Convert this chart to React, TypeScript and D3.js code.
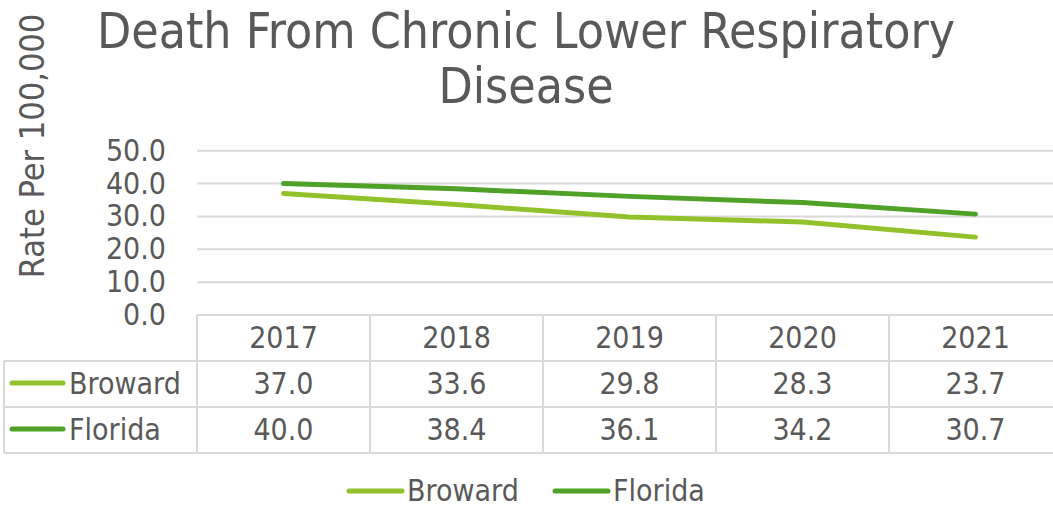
import * as React from 'react';
import { scaleLinear, scaleBand, line } from 'd3';

const years = ['2017', '2018', '2019', '2020', '2021'];
const broward = [37.0, 33.6, 29.8, 28.3, 23.7];
const florida = [40.0, 38.4, 36.1, 34.2, 30.7];
const yTicks = [0, 10, 20, 30, 40, 50];

const seriesNames = ['Broward', 'Florida'];
const seriesColors = ['#92c22b', '#4fa128'];

const W = 1053;
const H = 508;
const FONT = "'DejaVu Sans Condensed', 'DejaVu Sans', sans-serif";
const TEXT = '#595959';
const GRID = '#d9d9d9';

const App = () => {
    const plotLeft = 197;
    const colW = 173;
    const xScale = scaleBand<string>()
        .domain(years)
        .range([plotLeft, plotLeft + colW * years.length]);
    const yScale = scaleLinear().domain([0, 50]).range([315, 150.7]);

    const rowTop = 315;
    const rowH = 46;
    const rowY = [0, 1, 2, 3].map((i) => rowTop + rowH * i);

    const series = [broward, florida];
    const lineGen = line<number>()
        .x((d, i) => xScale(years[i])! + xScale.bandwidth() / 2)
        .y((d) => yScale(d));

    return (
        <svg width={W} height={H} style={{ position: 'absolute', left: 0, top: 0, background: 'white' }} fontFamily={FONT}>
            {/* title */}
            <text x={526} y={48} textAnchor="middle" fontSize={49.5} fill={TEXT}>Death From Chronic Lower Respiratory</text>
            <text x={526} y={103} textAnchor="middle" fontSize={49.5} fill={TEXT}>Disease</text>

            {/* y axis title */}
            <text transform="translate(44,146) rotate(-90)" textAnchor="middle" fontSize={34} fill={TEXT}>Rate Per 100,000</text>

            {/* gridlines */}
            {yTicks.filter((t) => t > 0).map((t) => (
                <line key={t} x1={plotLeft} x2={W} y1={yScale(t)} y2={yScale(t)} stroke={GRID} strokeWidth={2} />
            ))}
            {yTicks.map((t) => (
                <text key={t} x={166} y={yScale(t) + 10} textAnchor="end" fontSize={30} fill={TEXT}>{t.toFixed(1)}</text>
            ))}

            {/* data table */}
            <g stroke={GRID} strokeWidth={2} fill="none">
                <line x1={plotLeft} x2={W} y1={rowY[0]} y2={rowY[0]} />
                <line x1={4} x2={W} y1={rowY[1]} y2={rowY[1]} />
                <line x1={4} x2={W} y1={rowY[2]} y2={rowY[2]} />
                <line x1={4} x2={W} y1={rowY[3]} y2={rowY[3]} />
                <line x1={4} x2={4} y1={rowY[1]} y2={rowY[3]} />
                {years.map((y) => (
                    <line key={y} x1={xScale(y)!} x2={xScale(y)!} y1={rowY[0]} y2={rowY[3]} />
                ))}
            </g>
            {years.map((y) => (
                <text key={y} x={xScale(y)! + xScale.bandwidth() / 2} y={rowY[0] + 33} textAnchor="middle" fontSize={30} fill={TEXT}>{y}</text>
            ))}
            {series.map((s, si) => (
                <g key={si}>
                    <line x1={12} x2={63} y1={rowY[si + 1] + 22} y2={rowY[si + 1] + 22} stroke={seriesColors[si]} strokeWidth={5} strokeLinecap="round" />
                    <text x={69} y={rowY[si + 1] + 33} fontSize={30} fill={TEXT}>{seriesNames[si]}</text>
                    {s.map((v, i) => (
                        <text key={i} x={xScale(years[i])! + xScale.bandwidth() / 2} y={rowY[si + 1] + 33} textAnchor="middle" fontSize={30} fill={TEXT}>{v.toFixed(1)}</text>
                    ))}
                </g>
            ))}

            {/* lines */}
            {series.map((s, si) => (
                <path key={si} d={lineGen(s)!} fill="none" stroke={seriesColors[si]} strokeWidth={5} strokeLinecap="round" strokeLinejoin="round" />
            ))}

            {/* legend */}
            {seriesNames.map((n, i) => (
                <g key={n} transform={`translate(${i === 0 ? 347 : 553},0)`}>
                    <line x1={2} x2={55} y1={491} y2={491} stroke={seriesColors[i]} strokeWidth={5} strokeLinecap="round" />
                    <text x={60} y={501} fontSize={30} fill={TEXT}>{n}</text>
                </g>
            ))}
        </svg>
    );
};

export default App;
